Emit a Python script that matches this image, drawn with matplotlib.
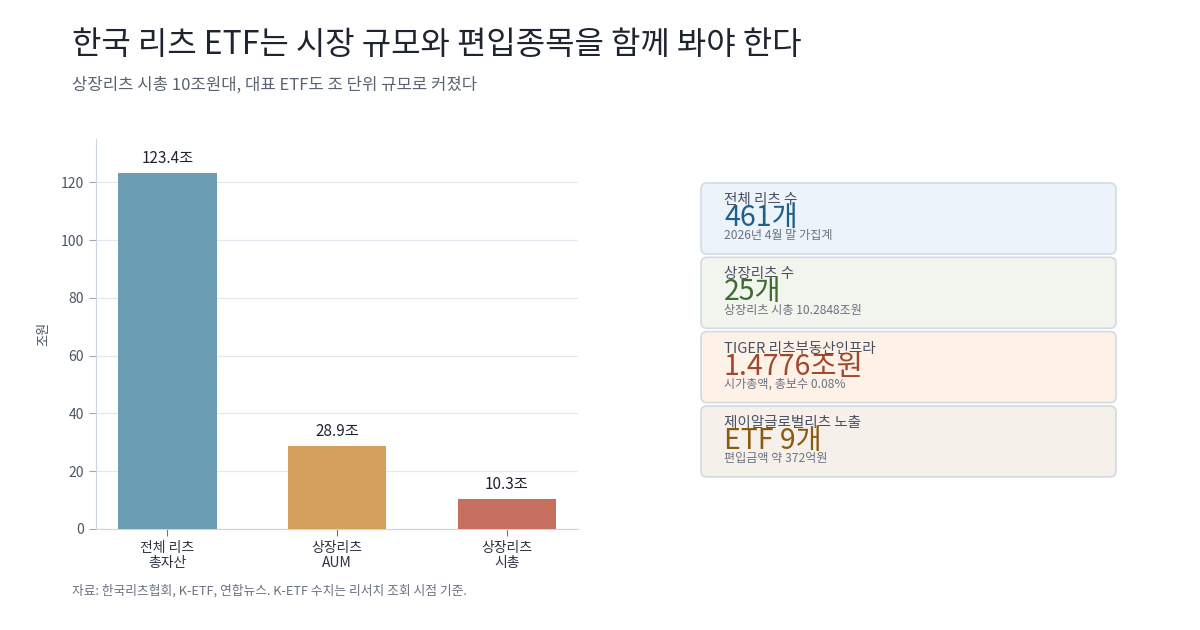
import matplotlib
matplotlib.use("Agg")
import matplotlib.pyplot as plt
from matplotlib.patches import FancyBboxPatch

plt.rcParams['font.family'] = ['Noto Sans CJK KR', 'DejaVu Sans']

# bar data
categories = ["전체 리츠\n총자산", "상장리츠\nAUM", "상장리츠\n시총"]
values = [123.4, 28.9, 10.3]
bar_colors = ["#6b9eb5", "#d5a05d", "#c87060"]

# card data
card_labels = ["전체 리츠 수", "상장리츠 수", "TIGER 리츠부동산인프라", "제이알글로벌리츠 노출"]
card_values = ["461개", "25개", "1.4776조원", "ETF 9개"]
card_notes = ["2026년 4월 말 가집계", "상장리츠 시총 10.2848조원", "시가총액, 총보수 0.08%", "편입금액 약 372억원"]
card_fill = ["#ecf3fb", "#f2f5ee", "#fdf1e8", "#f5f1ea"]
card_color = ["#1f5f8b", "#3f6b2e", "#a0492a", "#8a5a12"]

W, H = 1200, 630
fig = plt.figure(figsize=(12, 6.3), dpi=100)
fig.patch.set_facecolor("white")

fig.text(72 / W, 1 - 45 / H, "한국 리츠 ETF는 시장 규모와 편입종목을 함께 봐야 한다",
         fontsize=23, color="#1e2430", va="center", ha="left")
fig.text(72 / W, 1 - 85 / H, "상장리츠 시총 10조원대, 대표 ETF도 조 단위 규모로 커졌다",
         fontsize=12, color="#5b6472", va="center", ha="left")
fig.text(72 / W, 1 - 591 / H, "자료: 한국리츠협회, K-ETF, 연합뉴스. K-ETF 수치는 리서치 조회 시점 기준.",
         fontsize=9.2, color="#6b7280", va="center", ha="left")

# bar chart
ax = fig.add_axes([96 / W, 1 - 529 / H, (578 - 96) / W, (529 - 139) / H])
x = range(len(values))
ax.bar(x, values, width=0.58, color=bar_colors, zorder=3)
for xi, v in zip(x, values):
    ax.text(xi, v + 2, f"{v}조", ha="center", va="bottom", fontsize=11, color="#1e2430")
ax.set_xticks(list(x))
ax.set_xticklabels(categories, fontsize=10, color="#2d3440", linespacing=1.1)
ax.set_xlim(-0.42, 2.42)
ax.set_ylim(0, 135)
ax.set_yticks(range(0, 121, 20))
ax.tick_params(axis="y", labelsize=10, labelcolor="#4a5565", color="#a0a8b5", length=5)
ax.tick_params(axis="x", color="#6b7280", length=5)
ax.grid(axis="y", color="#e2e8f0", linewidth=0.9, zorder=0)
ax.set_ylabel("조원", fontsize=9.5, color="#4a5565", labelpad=8)
for s in ["top", "right"]:
    ax.spines[s].set_visible(False)
for s in ["left", "bottom"]:
    ax.spines[s].set_color("#cbd5e1")

# cards
cax = fig.add_axes([0, 0, 1, 1])
cax.set_xlim(0, W)
cax.set_ylim(H, 0)
cax.axis("off")
top0 = 183
ch = 71
step = 74.3
for i in range(len(card_labels)):
    y0 = top0 + i * step
    box = FancyBboxPatch((701, y0), 415, ch, boxstyle="round,pad=0,rounding_size=6",
                         facecolor=card_fill[i], edgecolor="#d3dae3", linewidth=1.2)
    cax.add_patch(box)
    cax.text(724, y0 + 17, card_labels[i], fontsize=10.5, color="#4a5060", va="center", ha="left")
    cax.text(724, y0 + 35, card_values[i], fontsize=20.5, color=card_color[i], va="center", ha="left")
    cax.text(724, y0 + 53, card_notes[i], fontsize=8.7, color="#6b7280", va="center", ha="left")

fig.savefig("out.png", dpi=100, facecolor="white")
